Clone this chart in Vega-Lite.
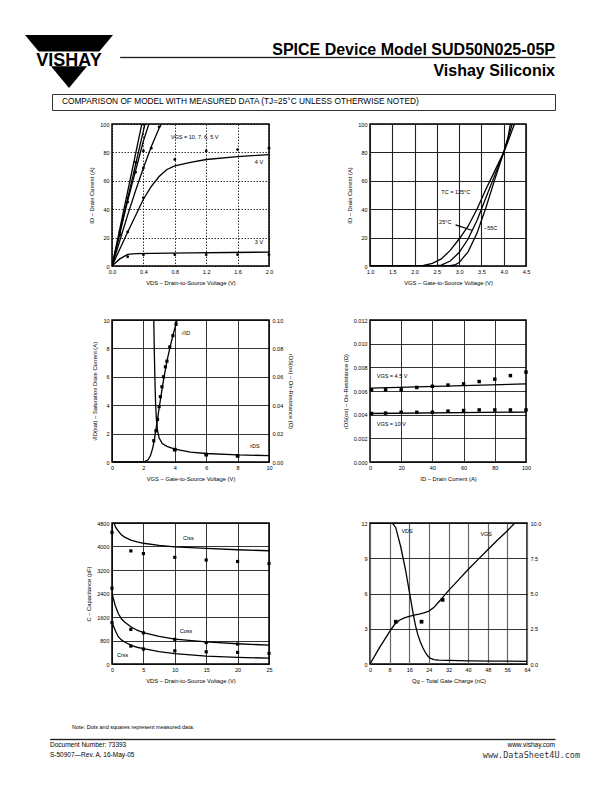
{
"$schema":"https://vega.github.io/schema/vega-lite/v6.json",
"padding":0,
"background":"white",
"config":{
 "font":"Liberation Sans",
 "view":{"stroke":null},
 "axis":{"labelFontSize":5.5,"labelColor":"black","titleFontSize":5.8,"titleFontWeight":"normal","titleColor":"black","ticks":false,"domain":false,"grid":true,"gridColor":"black","gridWidth":0.8,"gridOpacity":1,"labelPadding":3,"titlePadding":5,"labelFlush":false,"labelOverlap":false},
 "line":{"color":"black","strokeWidth":1.3},
 "point":{"filled":true,"color":"black","size":8,"opacity":1},
 "text":{"fontSize":5.5,"color":"black","baseline":"middle"}
},
"bounds":"flush","align":"none","spacing":0,
"vconcat":[
 {"width":612,"height":35,"data":{"values":[]},"mark":"point"},
 {"hconcat":[
   {"width":25,"height":53,"data":{"values":[]},"mark":"point"},
   {"width":88,"height":53,"data":{"values":[{"t":"VISHAY"}]},
    "layer":[
     {"mark":{"type":"point","shape":"M-1,-0.6L1,-0.6L0,0.6Z","size":7744,"filled":true,"color":"black","strokeWidth":0}},
     {"mark":{"type":"point","shape":"M-1.05,-0.23L1.05,-0.23L1.05,0.11L-1.05,0.11Z","size":7744,"filled":true,"color":"white","strokeWidth":0}},
     {"mark":{"type":"text","fontSize":18,"fontWeight":"bold","baseline":"alphabetic","dy":4},"encoding":{"text":{"field":"t"}}}
    ]},
   {"width":7,"height":53,"data":{"values":[]},"mark":"point"},
   {"vconcat":[
     {"width":435,"height":22,"data":{"values":[]},"mark":"point"},
     {"width":435,"height":0.4,"view":{"stroke":"black","strokeWidth":0.8},
      "data":{"values":[{"a":"SPICE Device Model SUD50N025-05P","b":"Vishay Siliconix"}]},
      "layer":[
       {"mark":{"type":"text","align":"right","baseline":"alphabetic","fontSize":16,"fontWeight":"bold","dy":-2},"encoding":{"x":{"value":"width"},"y":{"value":0},"text":{"field":"a"}}},
       {"mark":{"type":"text","align":"right","baseline":"alphabetic","fontSize":16,"fontWeight":"bold","dy":19},"encoding":{"x":{"value":"width"},"y":{"value":0},"text":{"field":"b"}}}
      ]}
   ],"spacing":0,"bounds":"flush","align":"none"}
 ],"spacing":0,"bounds":"flush","align":"none"},
 {"width":612,"height":59,"data":{"values":[]},"mark":"point"},
 {"hconcat":[
   {"width":52,"height":16,"data":{"values":[]},"mark":"point"},
   {"width":503,"height":16,"view":{"stroke":"#333","strokeWidth":1},
    "data":{"values":[{"t":"COMPARISON OF MODEL WITH MEASURED DATA (TJ=25°C UNLESS OTHERWISE NOTED)"}]},
    "mark":{"type":"text","align":"left","fontSize":8.3},
    "encoding":{"x":{"value":10},"text":{"field":"t"}}}
 ],"spacing":0,"bounds":"flush","align":"none"},
 {"width":612,"height":30,"data":{"values":[]},"mark":"point"},
 {"hconcat":[
   {"width":11,"height":142,"data":{"values":[]},"mark":"point"},
   {"width":157,"height":142,"view":{"stroke":"black","strokeWidth":1.5},
    "encoding":{
     "x":{"field":"x","type":"quantitative","scale":{"domain":[0,2],"nice":false},"axis":{"values":[0,0.4,0.8,1.2,1.6,2],"format":".1f","title":"VDS – Drain-to-Source Voltage (V)","gridDash":[1.5,1.5]}},
     "y":{"field":"y","type":"quantitative","scale":{"domain":[0,100],"nice":false},"axis":{"values":[0,20,40,60,80,100],"title":"ID – Drain Current (A)","gridDash":[1.5,1.5]}}
    },
    "layer":[
     {"data":{"values":[
      {"s":"10","x":0,"y":0},{"s":"10","x":0.38,"y":100},
      {"s":"7","x":0,"y":0},{"s":"7","x":0.42,"y":100},
      {"s":"6","x":0,"y":0},{"s":"6","x":0.2,"y":46},{"s":"6","x":0.4,"y":88},{"s":"6","x":0.47,"y":100},
      {"s":"5","x":0,"y":0},{"s":"5","x":0.1,"y":18},{"s":"5","x":0.2,"y":36},{"s":"5","x":0.3,"y":53},{"s":"5","x":0.4,"y":69},{"s":"5","x":0.5,"y":84},{"s":"5","x":0.6,"y":97},{"s":"5","x":0.63,"y":100},
      {"s":"4","x":0,"y":0},{"s":"4","x":0.2,"y":24},{"s":"4","x":0.4,"y":47},{"s":"4","x":0.5,"y":56},{"s":"4","x":0.6,"y":63},{"s":"4","x":0.7,"y":68},{"s":"4","x":0.8,"y":70.5},{"s":"4","x":1.0,"y":73},{"s":"4","x":1.2,"y":75},{"s":"4","x":1.6,"y":77},{"s":"4","x":2.0,"y":78.5},
      {"s":"3","x":0,"y":0},{"s":"3","x":0.1,"y":5},{"s":"3","x":0.2,"y":8.2},{"s":"3","x":0.3,"y":8.7},{"s":"3","x":0.5,"y":8.9},{"s":"3","x":1.0,"y":9.2},{"s":"3","x":1.5,"y":9.5},{"s":"3","x":2.0,"y":9.8}
     ]},"mark":{"type":"line","clip":true},"encoding":{"detail":{"field":"s"}}},
     {"data":{"values":[
      {"x":0.1,"y":24},{"x":0.1,"y":22},{"x":0.2,"y":48},{"x":0.2,"y":45},{"x":0.3,"y":66},{"x":0.3,"y":73},{"x":0.4,"y":81},{"x":0.4,"y":69},{"x":0.5,"y":83},{"x":0.6,"y":98},
      {"x":0.2,"y":24},{"x":0.4,"y":48},{"x":0.8,"y":75},{"x":1.2,"y":81},{"x":1.6,"y":82},{"x":2.0,"y":83},
      {"x":0.2,"y":6.5},{"x":0.4,"y":8},{"x":0.8,"y":8},{"x":1.2,"y":8},{"x":1.6,"y":8},{"x":2.0,"y":8}
     ]},"mark":"point"},
     {"data":{"values":[{"x":0.75,"y":91,"t":"VGS = 10, 7, 6, 5 V"},{"x":1.82,"y":73,"t":"4 V"},{"x":1.82,"y":17,"t":"3 V"}]},
      "mark":{"type":"text","align":"left"},"encoding":{"text":{"field":"t"}}}
    ]},
   {"width":156,"height":142,"view":{"stroke":"black","strokeWidth":1.5},
    "encoding":{
     "x":{"field":"x","type":"quantitative","scale":{"domain":[1,4.5],"nice":false},"axis":{"values":[1,1.5,2,2.5,3,3.5,4,4.5],"format":".1f","title":"VGS – Gate-to-Source Voltage (V)","gridColor":"#222","gridWidth":1.1}},
     "y":{"field":"y","type":"quantitative","scale":{"domain":[0,100],"nice":false},"axis":{"values":[0,20,40,60,80,100],"title":"ID – Drain Current (A)","gridColor":"#222","gridWidth":1.1}}
    },
    "layer":[
     {"data":{"values":[
      {"s":"125","x":1,"y":0},{"s":"125","x":2.0,"y":0},{"s":"125","x":2.2,"y":0.4},{"s":"125","x":2.4,"y":1.8},{"s":"125","x":2.6,"y":5},{"s":"125","x":2.8,"y":11},{"s":"125","x":3.0,"y":19},{"s":"125","x":3.2,"y":28},{"s":"125","x":3.4,"y":40},{"s":"125","x":3.5,"y":47},{"s":"125","x":3.6,"y":54},{"s":"125","x":3.8,"y":67},{"s":"125","x":4.0,"y":80},{"s":"125","x":4.1,"y":88},{"s":"125","x":4.24,"y":100},
      {"s":"25","x":1,"y":0},{"s":"25","x":2.4,"y":0},{"s":"25","x":2.6,"y":0.6},{"s":"25","x":2.8,"y":3.5},{"s":"25","x":3.0,"y":9.5},{"s":"25","x":3.2,"y":19},{"s":"25","x":3.4,"y":32},{"s":"25","x":3.5,"y":40},{"s":"25","x":3.6,"y":48},{"s":"25","x":3.8,"y":64},{"s":"25","x":4.0,"y":80},{"s":"25","x":4.1,"y":90},{"s":"25","x":4.19,"y":100},
      {"s":"-55","x":1,"y":0},{"s":"-55","x":2.75,"y":0},{"s":"-55","x":2.9,"y":0.7},{"s":"-55","x":3.0,"y":2.4},{"s":"-55","x":3.2,"y":10},{"s":"-55","x":3.4,"y":23},{"s":"-55","x":3.5,"y":32},{"s":"-55","x":3.6,"y":41},{"s":"-55","x":3.8,"y":61},{"s":"-55","x":4.0,"y":80},{"s":"-55","x":4.1,"y":91},{"s":"-55","x":4.15,"y":100},
      {"s":"lead","x":2.92,"y":29},{"s":"lead","x":3.3,"y":25}
     ]},"mark":{"type":"line","clip":true},"encoding":{"detail":{"field":"s"}}},
     {"data":{"values":[{"x":2.6,"y":52,"t":"TC = 125°C"},{"x":2.55,"y":31,"t":"25°C"},{"x":3.56,"y":27,"t":"–55C"}]},
      "mark":{"type":"text","align":"left"},"encoding":{"text":{"field":"t"}}}
    ]}
 ],"spacing":101,"bounds":"flush","align":"none"},
 {"width":612,"height":196,"data":{"values":[]},"mark":"point"},
 {"hconcat":[
   {"width":11,"height":142,"data":{"values":[]},"mark":"point"},
   {"width":157,"height":142,"view":{"stroke":"black","strokeWidth":1.5},
    "encoding":{
     "x":{"field":"x","type":"quantitative","scale":{"domain":[0,10],"nice":false},"axis":{"values":[0,2,4,6,8,10],"title":"VGS – Gate-to-Source Voltage (V)"}}
    },
    "layer":[
     {"encoding":{"y":{"field":"y","type":"quantitative","scale":{"domain":[0,10],"nice":false},"axis":{"values":[0,2,4,6,8,10],"title":"√ID(sat) – Saturation Drain Current (A)"}}},
      "layer":[
       {"data":{"values":[
        {"x":0,"y":0},{"x":1.8,"y":0},{"x":2.1,"y":0.05},{"x":2.3,"y":0.15},{"x":2.45,"y":0.45},{"x":2.6,"y":1.0},{"x":2.7,"y":1.6},{"x":2.8,"y":2.3},{"x":2.9,"y":3.0},{"x":3.0,"y":3.8},{"x":3.1,"y":4.5},{"x":3.2,"y":5.2},{"x":3.3,"y":5.9},{"x":3.4,"y":6.5},{"x":3.5,"y":7.1},{"x":3.7,"y":8.1},{"x":3.9,"y":9.0},{"x":4.1,"y":9.8},{"x":4.15,"y":10}
       ]},"mark":{"type":"line","clip":true}},
       {"data":{"values":[
        {"x":2.66,"y":1.5},{"x":2.8,"y":2.2},{"x":2.9,"y":3.0},{"x":3.0,"y":3.9},{"x":3.08,"y":4.6},{"x":3.18,"y":5.3},{"x":3.28,"y":6.0},{"x":3.4,"y":6.7},{"x":3.5,"y":7.1},{"x":3.68,"y":8.1},{"x":3.88,"y":8.9},{"x":4.08,"y":9.7}
       ]},"mark":{"type":"point","shape":"square","size":10}},
       {"data":{"values":[{"x":4.4,"y":9.1,"t":"√ID"}]},"mark":{"type":"text","align":"left","fontSize":6},"encoding":{"text":{"field":"t"}}}
      ]},
     {"encoding":{"y":{"field":"y","type":"quantitative","scale":{"domain":[0,0.1],"nice":false},"axis":{"orient":"right","values":[0,0.02,0.04,0.06,0.08,0.1],"format":".2f","grid":false,"title":"rDS(on) – On-Resistance (Ω)"}}},
      "layer":[
       {"data":{"values":[
        {"x":2.66,"y":0.1},{"x":2.7,"y":0.075},{"x":2.74,"y":0.055},{"x":2.78,"y":0.04},{"x":2.83,"y":0.03},{"x":2.9,"y":0.022},{"x":3.0,"y":0.017},{"x":3.2,"y":0.013},{"x":3.5,"y":0.011},{"x":4.0,"y":0.009},{"x":5.0,"y":0.007},{"x":6.0,"y":0.006},{"x":8.0,"y":0.005},{"x":10,"y":0.0045}
       ]},"mark":{"type":"line","clip":true}},
       {"data":{"values":[{"x":4,"y":0.0087},{"x":6,"y":0.0052},{"x":8,"y":0.0043}]},"mark":{"type":"point","shape":"square","size":14}},
       {"data":{"values":[{"x":8.8,"y":0.0115,"t":"rDS"}]},"mark":{"type":"text","align":"left"},"encoding":{"text":{"field":"t"}}}
      ]}
    ],
    "resolve":{"scale":{"y":"independent"}}},
   {"width":156,"height":142,"view":{"stroke":"black","strokeWidth":1.5},
    "encoding":{
     "x":{"field":"x","type":"quantitative","scale":{"domain":[0,100],"nice":false},"axis":{"values":[0,20,40,60,80,100],"title":"ID – Drain Current (A)","gridColor":"#333","gridWidth":1}},
     "y":{"field":"y","type":"quantitative","scale":{"domain":[0,0.012],"nice":false},"axis":{"values":[0,0.002,0.004,0.006,0.008,0.01,0.012],"format":".3f","title":"rDS(on) – On-Resistance (Ω)"}}
    },
    "layer":[
     {"data":{"values":[
      {"s":"4.5","x":0,"y":0.00625},{"s":"4.5","x":100,"y":0.0066},
      {"s":"10","x":0,"y":0.0041},{"s":"10","x":100,"y":0.00422}
     ]},"mark":{"type":"line"},"encoding":{"detail":{"field":"s"}}},
     {"data":{"values":[
      {"x":1,"y":0.0061},{"x":10,"y":0.0061},{"x":20,"y":0.0061},{"x":30,"y":0.0063},{"x":40,"y":0.0064},{"x":50,"y":0.0065},{"x":60,"y":0.0066},{"x":70,"y":0.0068},{"x":80,"y":0.007},{"x":90,"y":0.0073},{"x":100,"y":0.0076},
      {"x":1,"y":0.0041},{"x":10,"y":0.00413},{"x":20,"y":0.0042},{"x":30,"y":0.0042},{"x":40,"y":0.0042},{"x":50,"y":0.0043},{"x":60,"y":0.00435},{"x":70,"y":0.0044},{"x":80,"y":0.0044},{"x":90,"y":0.0044},{"x":100,"y":0.0044}
     ]},"mark":{"type":"point","shape":"square","size":12}},
     {"data":{"values":[{"x":4.3,"y":0.00728,"t":"VGS = 4.5 V"},{"x":4.3,"y":0.0032,"t":"VGS = 10 V"}]},
      "mark":{"type":"text","align":"left"},"encoding":{"text":{"field":"t"}}}
    ]}
 ],"spacing":101,"bounds":"flush","align":"none"},
 {"width":612,"height":203,"data":{"values":[]},"mark":"point"},
 {"hconcat":[
   {"width":11,"height":141,"data":{"values":[]},"mark":"point"},
   {"width":157,"height":141,"view":{"stroke":"black","strokeWidth":1.5},
    "encoding":{
     "x":{"field":"x","type":"quantitative","scale":{"domain":[0,25],"nice":false},"axis":{"values":[0,5,10,15,20,25],"title":"VDS – Drain-to-Source Voltage (V)"}},
     "y":{"field":"y","type":"quantitative","scale":{"domain":[0,4800],"nice":false},"axis":{"values":[0,800,1600,2400,3200,4000,4800],"format":"d","title":"C – Capacitance (pF)"}}
    },
    "layer":[
     {"data":{"values":[
      {"s":"ciss","x":0.3,"y":4800},{"s":"ciss","x":0.6,"y":4650},{"s":"ciss","x":1,"y":4520},{"s":"ciss","x":1.5,"y":4400},{"s":"ciss","x":2,"y":4320},{"s":"ciss","x":3,"y":4220},{"s":"ciss","x":4,"y":4160},{"s":"ciss","x":5,"y":4110},{"s":"ciss","x":7.5,"y":4040},{"s":"ciss","x":10,"y":3990},{"s":"ciss","x":12.5,"y":3960},{"s":"ciss","x":15,"y":3935},{"s":"ciss","x":20,"y":3890},{"s":"ciss","x":25,"y":3855},
      {"s":"coss","x":0,"y":2400},{"s":"coss","x":0.5,"y":2000},{"s":"coss","x":1,"y":1720},{"s":"coss","x":1.5,"y":1540},{"s":"coss","x":2,"y":1430},{"s":"coss","x":3,"y":1270},{"s":"coss","x":4,"y":1150},{"s":"coss","x":5,"y":1070},{"s":"coss","x":7.5,"y":940},{"s":"coss","x":10,"y":850},{"s":"coss","x":15,"y":750},{"s":"coss","x":20,"y":690},{"s":"coss","x":25,"y":640},
      {"s":"crss","x":0,"y":1420},{"s":"crss","x":0.5,"y":1150},{"s":"crss","x":1,"y":930},{"s":"crss","x":1.5,"y":820},{"s":"crss","x":2,"y":750},{"s":"crss","x":3,"y":640},{"s":"crss","x":4,"y":570},{"s":"crss","x":5,"y":520},{"s":"crss","x":7.5,"y":420},{"s":"crss","x":10,"y":350},{"s":"crss","x":15,"y":270},{"s":"crss","x":20,"y":225},{"s":"crss","x":25,"y":200}
     ]},"mark":{"type":"line","clip":true},"encoding":{"detail":{"field":"s"}}},
     {"data":{"values":[
      {"x":0,"y":4480},{"x":3,"y":3850},{"x":5,"y":3760},{"x":10,"y":3630},{"x":15,"y":3540},{"x":20,"y":3490},{"x":25,"y":3420},
      {"x":0,"y":2580},{"x":3,"y":1180},{"x":5,"y":1060},{"x":10,"y":840},{"x":15,"y":730},{"x":20,"y":680},
      {"x":0,"y":1410},{"x":3,"y":610},{"x":5,"y":510},{"x":10,"y":450},{"x":15,"y":415},{"x":20,"y":395},{"x":25,"y":360}
     ]},"mark":{"type":"point","shape":"square","size":10}},
     {"data":{"values":[{"x":11.3,"y":4300,"t":"Ciss"},{"x":10.8,"y":1120,"t":"Coss"},{"x":0.8,"y":290,"t":"Crss"}]},
      "mark":{"type":"text","align":"left"},"encoding":{"text":{"field":"t"}}}
    ]},
   {"width":157,"height":141,"view":{"stroke":"black","strokeWidth":1.5},
    "encoding":{
     "x":{"field":"x","type":"quantitative","scale":{"domain":[0,64],"nice":false},"axis":{"values":[0,8,16,24,32,40,48,56,64],"title":"Qg – Total Gate Charge (nC)","gridColor":"#666","gridWidth":1.2}}
    },
    "layer":[
     {"encoding":{"y":{"field":"y","type":"quantitative","scale":{"domain":[0,12],"nice":false},"axis":{"values":[0,3,6,9,12],"title":null}}},
      "layer":[
       {"data":{"values":[
        {"x":0,"y":12},{"x":8.5,"y":12},{"x":9.5,"y":11.9},{"x":10.5,"y":11.6},{"x":11.5,"y":10.8},{"x":12.5,"y":10.0},{"x":13.5,"y":9.0},{"x":14.5,"y":8.0},{"x":15.5,"y":6.8},{"x":16.5,"y":5.6},{"x":17.5,"y":4.4},{"x":18.5,"y":3.3},{"x":19.5,"y":2.5},{"x":20.5,"y":1.9},{"x":21.5,"y":1.4},{"x":22.5,"y":1.0},{"x":23.5,"y":0.7},{"x":24.5,"y":0.5},{"x":26,"y":0.38},{"x":28,"y":0.33},{"x":32,"y":0.3},{"x":40,"y":0.27},{"x":50,"y":0.25},{"x":64,"y":0.23}
       ]},"mark":{"type":"line","clip":true}},
       {"data":{"values":[{"x":12.8,"y":11.3,"t":"VDS"}]},"mark":{"type":"text","align":"left"},"encoding":{"text":{"field":"t"}}}
      ]},
     {"encoding":{"y":{"field":"y","type":"quantitative","scale":{"domain":[0,10],"nice":false},"axis":{"orient":"right","values":[0,2.5,5,7.5,10],"format":".1f","grid":false,"title":null}}},
      "layer":[
       {"data":{"values":[
        {"x":0,"y":0},{"x":4,"y":1.2},{"x":8,"y":2.3},{"x":10,"y":2.8},{"x":12,"y":3.1},{"x":14,"y":3.27},{"x":16,"y":3.38},{"x":18,"y":3.46},{"x":20,"y":3.54},{"x":22,"y":3.63},{"x":24,"y":3.75},{"x":26,"y":4.0},{"x":28,"y":4.4},{"x":30,"y":4.8},{"x":32,"y":5.2},{"x":36,"y":5.95},{"x":40,"y":6.7},{"x":44,"y":7.4},{"x":48,"y":8.1},{"x":52,"y":8.8},{"x":56,"y":9.45},{"x":59,"y":10}
       ]},"mark":{"type":"line","clip":true}},
       {"data":{"values":[{"x":10.5,"y":3.0},{"x":21,"y":3.0},{"x":29.6,"y":4.55}]},"mark":{"type":"point","shape":"square","size":14}},
       {"data":{"values":[{"x":45,"y":9.25,"t":"VGS"}]},"mark":{"type":"text","align":"left"},"encoding":{"text":{"field":"t"}}}
      ]}
    ],
    "resolve":{"scale":{"y":"independent"}}}
 ],"spacing":101,"bounds":"flush","align":"none"},
 {"width":612,"height":199,"data":{"values":[]},"mark":"point"},
 {"hconcat":[
   {"width":72,"height":10,"data":{"values":[]},"mark":"point"},
   {"width":250,"height":10,"data":{"values":[{"t":"Note:  Dots and squares represent measured data."}]},
    "mark":{"type":"text","align":"left","fontSize":5.5},"encoding":{"x":{"value":0},"text":{"field":"t"}}}
 ],"spacing":0,"bounds":"flush","align":"none"},
 {"width":612,"height":17,"data":{"values":[]},"mark":"point"},
 {"hconcat":[
   {"width":50,"height":1,"data":{"values":[]},"mark":"point"},
   {"width":505,"height":0.4,"view":{"stroke":"black","strokeWidth":0.8},"data":{"values":[]},"mark":"point"}
 ],"spacing":0,"bounds":"flush","align":"none"},
 {"width":612,"height":1,"data":{"values":[]},"mark":"point"},
 {"hconcat":[
   {"width":50,"height":20,"data":{"values":[]},"mark":"point"},
   {"width":505,"height":20,
    "data":{"values":[
     {"side":"L","r":1,"t":"Document Number: 73393"},
     {"side":"L","r":2,"t":"S-50907—Rev. A, 16-May-05"},
     {"side":"R","r":1,"t":"www.vishay.com"},
     {"side":"W","r":2,"t":"www.DataSheet4U.com"}
    ]},
    "encoding":{"y":{"field":"r","type":"ordinal","axis":null},"text":{"field":"t"}},
    "layer":[
     {"transform":[{"filter":"datum.side == 'L'"}],"mark":{"type":"text","align":"left","fontSize":6.5},"encoding":{"x":{"value":0}}},
     {"transform":[{"filter":"datum.side == 'R'"}],"mark":{"type":"text","align":"right","fontSize":6.5},"encoding":{"x":{"value":"width"}}},
     {"transform":[{"filter":"datum.side == 'W'"}],"mark":{"type":"text","align":"right","fontSize":8.5,"font":"DejaVu Sans Mono","color":"#333","dx":25},"encoding":{"x":{"value":"width"}}}
    ]}
 ],"spacing":0,"bounds":"flush","align":"none"}
]
}
